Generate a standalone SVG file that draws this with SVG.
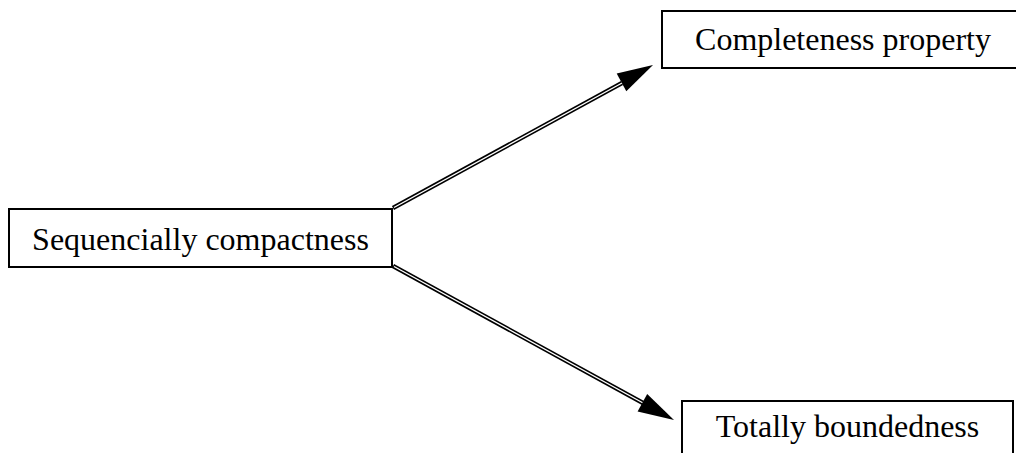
<svg xmlns="http://www.w3.org/2000/svg" width="1016" height="453" viewBox="0 0 1016 453">
<style>
.box{fill:#fff;stroke:#000;stroke-width:2}
.lbl{font-family:"Liberation Serif","Times New Roman",serif;font-size:32px;fill:#000;text-anchor:middle}
.outer{stroke:#000;stroke-width:4.5;fill:none}
.inner{stroke:#fff;stroke-width:1.4;fill:none}
.head{fill:#000;stroke:none}
</style>
<rect width="1016" height="453" fill="#fff"/>
<g id="connectors">
<line class="outer" x1="393" y1="208" x2="622" y2="83"/>
<line class="inner" x1="394" y1="207.5" x2="623" y2="82.5"/>
<polygon class="head" points="653,65 616.7,73.6 626.3,91.2"/>
<line class="outer" x1="393" y1="266" x2="643" y2="403"/>
<line class="inner" x1="394" y1="266.5" x2="644" y2="403.5"/>
<polygon class="head" points="674,420 647.2,393.9 637.6,411.5"/>
</g>
<g id="node-sequencially">
<rect class="box" x="9" y="209" width="383" height="58"/>
<text class="lbl" x="200.5" y="250">Sequencially compactness</text>
</g>
<g id="node-completeness">
<rect class="box" x="662" y="11" width="362" height="57"/>
<text class="lbl" x="843" y="50">Completeness property</text>
</g>
<g id="node-totally">
<rect class="box" x="682" y="401" width="331" height="70"/>
<text class="lbl" x="847.5" y="437">Totally boundedness</text>
</g>
</svg>
